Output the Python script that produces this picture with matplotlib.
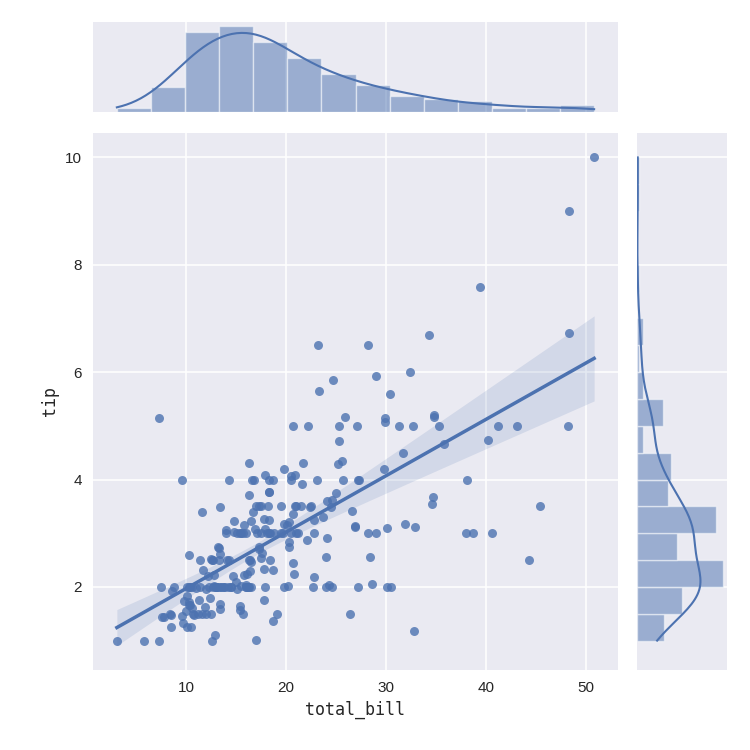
import numpy as np
import matplotlib
matplotlib.use("Agg")
import matplotlib.pyplot as plt

# tips dataset: total_bill / tip
total_bill = [
    16.99, 10.34, 21.01, 23.68, 24.59, 25.29, 8.77, 26.88, 15.04, 14.78,
    10.27, 35.26, 15.42, 18.43, 14.83, 21.58, 10.33, 16.29, 16.97, 20.65,
    17.92, 20.29, 15.77, 39.42, 19.82, 17.81, 13.37, 12.69, 21.70, 19.65,
    9.55, 18.35, 15.06, 20.69, 17.78, 24.06, 16.31, 16.93, 18.69, 31.27,
    16.04, 17.46, 13.94, 9.68, 30.40, 18.29, 22.23, 32.40, 28.55, 18.04,
    12.54, 10.29, 34.81, 9.94, 25.56, 19.49, 38.01, 26.41, 11.24, 48.27,
    20.29, 13.81, 11.02, 18.29, 17.59, 20.08, 16.45, 3.07, 20.23, 15.01,
    12.02, 17.07, 26.86, 25.28, 14.73, 10.51, 17.92, 27.20, 22.76, 17.29,
    19.44, 16.66, 10.07, 32.68, 15.98, 34.83, 13.03, 18.28, 24.71, 21.16,
    28.97, 22.49, 5.75, 16.32, 22.75, 40.17, 27.28, 12.03, 21.01, 12.46,
    11.35, 15.38, 44.30, 22.42, 20.92, 15.36, 20.49, 25.21, 18.24, 14.31,
    14.00, 7.25, 38.07, 23.95, 25.71, 17.31, 29.93, 10.65, 12.43, 24.08,
    11.69, 13.42, 14.26, 15.95, 12.48, 29.80, 8.52, 14.52, 11.38, 22.82,
    19.08, 20.27, 11.17, 12.26, 18.26, 8.51, 10.33, 14.15, 16.00, 13.16,
    17.47, 34.30, 41.19, 27.05, 16.43, 8.35, 18.64, 11.87, 9.78, 7.51,
    14.07, 13.13, 17.26, 24.55, 19.77, 29.85, 48.17, 25.00, 13.39, 16.49,
    21.50, 12.66, 16.21, 13.81, 17.51, 24.52, 20.76, 31.71, 10.59, 10.63,
    50.81, 15.81, 7.25, 31.85, 16.82, 32.90, 17.89, 14.48, 9.60, 34.63,
    34.65, 23.33, 45.35, 23.17, 40.55, 20.69, 20.90, 30.46, 18.15, 23.10,
    15.69, 19.81, 28.44, 15.48, 16.58, 7.56, 10.34, 43.11, 13.00, 13.51,
    18.71, 12.74, 13.00, 16.40, 20.53, 16.47, 26.59, 38.73, 24.27, 12.76,
    30.06, 25.89, 48.33, 13.27, 28.17, 12.90, 28.15, 11.59, 7.74, 30.14,
    12.16, 13.42, 8.58, 15.98, 13.42, 16.27, 10.09, 20.45, 13.28, 22.12,
    24.01, 15.69, 11.61, 10.77, 15.53, 10.07, 12.60, 32.83, 35.83, 29.03,
    27.18, 22.67, 17.82, 18.78,
]
tip = [
    1.01, 1.66, 3.50, 3.31, 3.61, 4.71, 2.00, 3.12, 1.96, 3.23,
    1.71, 5.00, 1.57, 3.00, 3.02, 3.92, 1.67, 3.71, 3.50, 3.35,
    4.08, 2.75, 2.23, 7.58, 3.18, 2.34, 2.00, 2.00, 4.30, 3.00,
    1.45, 2.50, 3.00, 2.45, 3.27, 3.60, 2.00, 3.07, 2.31, 5.00,
    2.24, 2.54, 3.06, 1.32, 5.60, 3.00, 5.00, 6.00, 2.05, 3.00,
    2.50, 2.60, 5.20, 1.56, 4.34, 3.51, 3.00, 1.50, 1.76, 6.73,
    3.21, 2.00, 1.98, 3.76, 2.64, 3.15, 2.47, 1.00, 2.01, 2.09,
    1.97, 3.00, 3.14, 5.00, 2.20, 1.25, 3.08, 4.00, 3.00, 2.71,
    3.00, 3.40, 1.83, 5.00, 2.03, 5.17, 2.00, 4.00, 5.85, 3.00,
    3.00, 3.50, 1.00, 4.30, 3.25, 4.73, 4.00, 1.50, 3.00, 1.50,
    2.50, 3.00, 2.50, 3.48, 4.08, 1.64, 4.06, 4.29, 3.76, 4.00,
    3.00, 1.00, 4.00, 2.55, 4.00, 3.50, 5.07, 1.50, 1.80, 2.92,
    2.31, 1.68, 2.50, 2.00, 2.52, 4.20, 1.48, 2.00, 2.00, 2.18,
    1.50, 2.83, 1.50, 2.00, 3.25, 1.25, 2.00, 2.00, 2.00, 2.75,
    3.50, 6.70, 5.00, 5.00, 2.30, 1.50, 1.36, 1.63, 1.73, 2.00,
    2.50, 2.00, 2.74, 2.00, 2.00, 5.14, 5.00, 3.75, 2.61, 2.00,
    3.50, 2.50, 2.00, 2.00, 3.00, 3.48, 2.24, 4.50, 1.61, 2.00,
    10.00, 3.16, 5.15, 3.18, 4.00, 3.11, 2.00, 2.00, 4.00, 3.55,
    3.68, 5.65, 3.50, 6.50, 3.00, 5.00, 3.50, 2.00, 3.50, 4.00,
    1.50, 4.19, 2.56, 2.02, 4.00, 1.44, 2.00, 5.00, 2.00, 2.00,
    4.00, 2.01, 2.00, 2.50, 4.00, 3.23, 3.41, 3.00, 2.03, 2.23,
    2.00, 5.16, 9.00, 2.50, 6.50, 1.10, 3.00, 1.50, 1.44, 3.09,
    2.20, 3.48, 1.92, 3.00, 1.58, 2.50, 2.00, 3.00, 2.72, 2.88,
    2.00, 3.00, 3.39, 1.47, 3.00, 1.25, 1.00, 1.17, 4.67, 5.92,
    2.00, 2.00, 1.75, 3.00,
]

COLOR = "#4c72b0"
BG = "#eaeaf2"


def kde_curve(v, grid):
    # gaussian kde, scott bandwidth
    v = np.asarray(v)
    bw = v.std(ddof=1) * len(v) ** (-1 / 5)
    z = (grid[:, None] - v[None, :]) / bw
    return np.exp(-0.5 * z ** 2).sum(axis=1) / (len(v) * bw * np.sqrt(2 * np.pi))


def style_ax(ax):
    ax.set_facecolor(BG)
    for s in ax.spines.values():
        s.set_visible(False)
    ax.grid(True, color="white", lw=1.1)
    ax.set_axisbelow(True)
    ax.tick_params(length=0, labelsize=11, colors="#262626", pad=8)


x = np.array(total_bill)
y = np.array(tip)

fig = plt.figure(figsize=(7.5, 7.5), dpi=100)
ax = fig.add_axes([0.124, 0.1067, 0.7, 0.716])
ax_top = fig.add_axes([0.124, 0.8507, 0.7, 0.12], sharex=ax)
ax_right = fig.add_axes([0.8493, 0.1067, 0.12, 0.716], sharey=ax)
for a in (ax, ax_top, ax_right):
    style_ax(a)

# scatter
ax.scatter(x, y, s=42, color=COLOR, alpha=0.8, lw=0, zorder=3)

# regression line + robust (sandwich) 95% band
X = np.column_stack([np.ones_like(x), x])
beta, *_ = np.linalg.lstsq(X, y, rcond=None)
resid = y - X @ beta
XtX_inv = np.linalg.inv(X.T @ X)
meat = X.T @ (X * resid[:, None] ** 2)
V = XtX_inv @ meat @ XtX_inv
xs = np.linspace(x.min(), x.max(), 100)
Xs = np.column_stack([np.ones_like(xs), xs])
ys = Xs @ beta
se = np.sqrt(np.einsum("ij,jk,ik->i", Xs, V, Xs))
ax.fill_between(xs, ys - 1.97 * se, ys + 1.97 * se, color=COLOR, alpha=0.15, lw=0, zorder=2)
ax.plot(xs, ys, color=COLOR, lw=2.5, zorder=4)

ax.set_xlabel("total_bill", fontsize=12, family="DejaVu Sans Mono", color="#262626")
ax.set_ylabel("tip", fontsize=12, family="DejaVu Sans Mono", color="#262626")
for lab in ax.get_xticklabels() + ax.get_yticklabels():
    lab.set_family("Liberation Sans")

# top marginal
edges_x = np.histogram_bin_edges(x, bins="auto")
cnt_x, _ = np.histogram(x, bins=edges_x)
ax_top.bar(edges_x[:-1], cnt_x, width=np.diff(edges_x), align="edge",
           color=COLOR, alpha=0.5, edgecolor="white", lw=1)
gx = np.linspace(x.min(), x.max(), 200)
ax_top.plot(gx, kde_curve(x, gx) * len(x) * np.diff(edges_x)[0], color=COLOR, lw=1.5)
ax_top.tick_params(labelbottom=False, labelleft=False)
ax_top.yaxis.grid(False)
ax_top.set_ylim(0, None)

# right marginal
edges_y = np.histogram_bin_edges(y, bins="auto")
cnt_y, _ = np.histogram(y, bins=edges_y)
ax_right.barh(edges_y[:-1], cnt_y, height=np.diff(edges_y), align="edge",
              color=COLOR, alpha=0.5, edgecolor="white", lw=1)
gy = np.linspace(y.min(), y.max(), 200)
ax_right.plot(kde_curve(y, gy) * len(y) * np.diff(edges_y)[0], gy, color=COLOR, lw=1.5)
ax_right.tick_params(labelbottom=False, labelleft=False)
ax_right.xaxis.grid(False)
ax_right.set_xlim(0, None)

ax.set_xticks([10, 20, 30, 40, 50])
ax.set_yticks([2, 4, 6, 8, 10])

fig.savefig("out.png", dpi=100)
